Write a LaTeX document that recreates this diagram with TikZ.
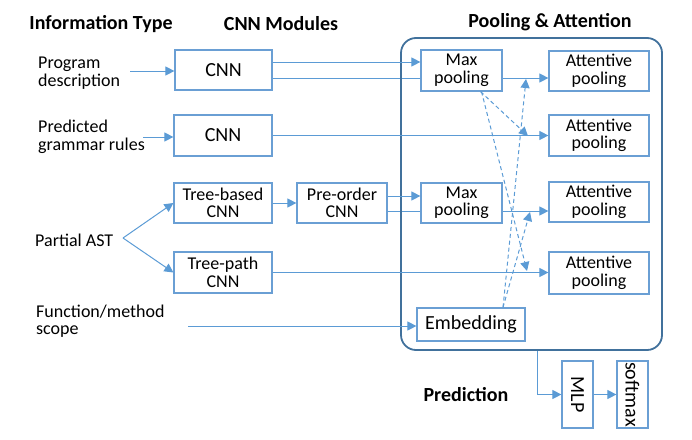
\documentclass[tikz,border=0pt]{standalone}
\usepackage{fontspec}
\setmainfont{Carlito}
\usetikzlibrary{arrows.meta,backgrounds,calc}
\definecolor{boxc}{HTML}{6A9FD4}
\definecolor{arrc}{HTML}{5B9BD5}
\definecolor{contc}{HTML}{41719C}
\begin{document}
\begin{tikzpicture}[x=1pt,y=-1pt,
  box/.style={draw=boxc, line width=1.2pt, fill=white, align=center, inner sep=0pt, font=\fontsize{18}{17.5}\selectfont},
  bigtext/.style={font=\fontsize{20}{20}\selectfont},
  lbl/.style={anchor=west, align=left, inner sep=0pt, font=\fontsize{18}{17.5}\selectfont},
  hdr/.style={inner sep=0pt, font=\bfseries\fontsize{20}{22}\selectfont},
  arr/.style={draw=arrc, line width=1pt, -{Triangle[length=9pt,width=9pt]}},
  dsh/.style={arr, dash pattern=on 4pt off 3pt},
  ln/.style={draw=arrc, line width=1pt},
  container/.style={draw=contc, line width=1.8pt, rounded corners=15pt, inner sep=0pt}]
\useasboundingbox (0,0) rectangle (692,439);

% headers
\node[hdr] (h1) at (101,24) {Information Type};
\node[hdr] (h2) at (281,24) {CNN Modules};
\node[hdr] (h3) at (550,22) {Pooling \& Attention};
\node[hdr] (h4) at (466,395) {Prediction};

% container
\node[container, minimum width=261pt, minimum height=312pt] (pool) at (531.5,194) {};

% left labels
\node[lbl] (pd) at (38,73) {Program\\description};
\node[lbl] (pg) at (38,137) {Predicted\\grammar rules};
\node[lbl] (pa) at (35,240) {Partial AST};
\node[lbl] (fs) at (36,321) {Function/method\\scope};

% CNN modules
\node[box, bigtext, minimum width=97pt, minimum height=40pt] (cnn1) at (223.5,70) {CNN};
\node[box, bigtext, minimum width=98pt, minimum height=41pt] (cnn2) at (223,135.5) {CNN};
\node[box, minimum width=98pt, minimum height=40pt] (treeb) at (223,203) {Tree-based\\CNN};
\node[box, minimum width=90pt, minimum height=40pt] (preo) at (342,203) {Pre-order\\CNN};
\node[box, minimum width=98pt, minimum height=41pt] (treep) at (223,272.5) {Tree-path\\CNN};

% pooling & attention
\node[box, minimum width=81pt, minimum height=41pt] (mp1) at (461.5,70.5) {Max\\pooling};
\node[box, minimum width=81pt, minimum height=40pt] (mp2) at (461.5,203) {Max\\pooling};
\node[box, minimum width=100pt, minimum height=40pt] (ap1) at (599,71) {Attentive\\pooling};
\node[box, minimum width=100pt, minimum height=41pt] (ap2) at (599,135.5) {Attentive\\pooling};
\node[box, minimum width=100pt, minimum height=40pt] (ap3) at (599,202) {Attentive\\pooling};
\node[box, minimum width=100pt, minimum height=42pt] (ap4) at (599,273) {Attentive\\pooling};
\node[box, bigtext, minimum width=108pt, minimum height=33pt] (emb) at (471,324.5) {Embedding};

% prediction
\node[box, bigtext, minimum width=31pt, minimum height=67pt] (mlp) at (577.5,394.5) {\rotatebox{-90}{MLP}};
\node[box, bigtext, minimum width=31pt, minimum height=67pt] (sm) at (632.5,394.5) {\rotatebox{-90}{softmax}};

% free ends
\coordinate (pdin) at (130,71);
\coordinate (pgin) at (143,137);
\coordinate (apex) at (123,238);
\coordinate (fsin) at (188,326);
\coordinate (t1) at (526,79);
\coordinate (t2) at (528,136);
\coordinate (t3) at (530,212);
\coordinate (t4) at (527,271);

% inputs
\draw[arr] (pdin) -- (pdin -| cnn1.west);
\draw[arr] (pgin) -- (pgin -| cnn2.west);
\draw[arr] (apex) -- (treeb.west);
\draw[arr] (apex) -- (treep.west);
\draw[arr] (fsin) -- (fsin -| emb.west);

% CNN to pooling
\draw[arr] ([yshift=8pt]cnn1.east) -- ([yshift=8pt]cnn1.east -| mp1.west);
\draw[arr] (cnn2.east) -- (cnn2.east -| ap2.west);
\draw[arr] (treeb.east) -- (preo.west);
\draw[arr] ([yshift=7pt]preo.east) -- ([yshift=7pt]preo.east -| mp2.west);
\draw[arr] (treep.east) -- (treep.east -| ap4.west);

\begin{pgfonlayer}{background}
\draw[arr] ([yshift=-8pt]cnn1.east) -- ([yshift=-8pt]cnn1.east -| ap1.west);
\draw[arr] ([yshift=-8pt]preo.east) -- ([yshift=-8pt]preo.east -| ap3.west);
\end{pgfonlayer}

% dashed
\draw[dsh] ([xshift=19pt]mp1.south) -- (t2);
\draw[dsh] ([xshift=20pt]mp1.south) -- (t4);
\draw[dsh] ([xshift=32pt]emb.north) -- (t1);
\draw[dsh] ([xshift=32pt]emb.north) -- (t3);

% prediction
\draw[arr] ([xshift=5.5pt]pool.south) |- (mlp.west);
\draw[arr] (mlp.east) -- (sm.west);
\end{tikzpicture}
\end{document}
